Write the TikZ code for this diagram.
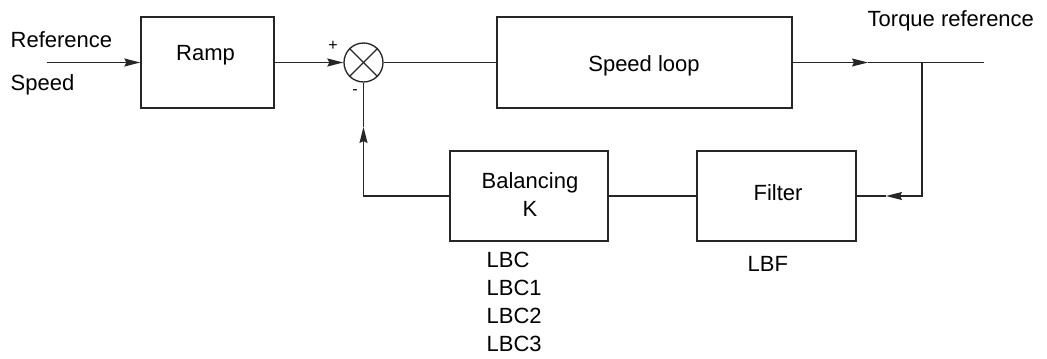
\documentclass[tikz,border=0pt]{standalone}
\usepackage{fontspec}
\setmainfont{Liberation Sans}
\usetikzlibrary{arrows.meta}
\newdimen\pxu \pxu=0.75pt
\begin{document}
\begin{tikzpicture}[x=0.75pt,y=-0.75pt,
  line width=1pt, draw=black!85,
  blk/.style={draw, rectangle, inner sep=0pt, line width=1pt},
  txt/.style={inner sep=0pt, font=\fontsize{16.5}{20}\selectfont},
  arr/.style={-{Stealth[length=12pt,width=6pt,inset=1.5pt]}},
  wire/.style={line width=1pt}]
\useasboundingbox (0,0) rectangle (1047,358);
% blocks
\node[blk, minimum width=133\pxu, minimum height=91\pxu] (ramp) at (207.5,62.5) {};
\node[blk, minimum width=295\pxu, minimum height=91\pxu] (speed) at (644.5,62.5) {};
\node[blk, minimum width=158\pxu, minimum height=90\pxu] (bal) at (529,196) {};
\node[blk, minimum width=159\pxu, minimum height=90\pxu] (filt) at (776.5,196) {};
\node[draw, circle, inner sep=0pt, minimum size=39\pxu, line width=1pt] (sum) at (363.5,62.5) {};
\draw[wire] (sum.north west) -- (sum.south east);
\draw[wire] (sum.north east) -- (sum.south west);
% texts
\node[txt, anchor=base west] (tref) at (10,47) {Reference};
\node[txt, anchor=base west] (tspd) at (10,90) {Speed};
\node[txt, anchor=base] (tramp) at (205.5,60) {Ramp};
\node[txt, anchor=base] (tloop) at (644,71.5) {Speed loop};
\node[txt, anchor=base west] (ttorq) at (867,26) {Torque reference};
\node[txt, anchor=base] (tbal) at (530,188) {Balancing};
\node[txt, anchor=base] (tk) at (530,216) {K};
\node[txt, anchor=base] (tfilt) at (778,200) {Filter};
\node[txt, anchor=base west] (tlbf) at (747,271) {LBF};
\node[txt, anchor=base west] (tlbc) at (486,267) {LBC};
\node[txt, anchor=base west] (tlbc1) at (486,295) {LBC1};
\node[txt, anchor=base west] (tlbc2) at (486,323) {LBC2};
\node[txt, anchor=base west] (tlbc3) at (486,351) {LBC3};
\node[inner sep=0pt, font=\fontsize{12}{14}\selectfont] (plus) at (333,46) {+};
\node[inner sep=0pt, font=\fontsize{12}{14}\selectfont] (minus) at (355,92) {-};
% coordinates
\coordinate (in) at (47,62.5);
\coordinate (tipO) at (868,62.5);
\coordinate (br) at (922,62.5);
\coordinate (outE) at (984,62.5);
\coordinate (brD) at (922,196);
\coordinate (tipF) at (886,196);
\coordinate (fbC) at (363.5,196);
\coordinate (tipU) at (363.5,127);
% connectors
\draw[wire, arr] (in) -- (ramp.west);
\draw[wire, arr] (ramp.east) -- (sum.west);
\draw[wire] (sum.east) -- (speed.west);
\draw[wire, arr] (speed.east) -- (tipO);
\draw[wire] (tipO) -- (br) -- (outE);
\draw[wire, arr] (br) -- (brD) -- (tipF);
\draw[wire] (tipF) -- (filt.east);
\draw[wire] (filt.west) -- (bal.east);
\draw[wire, arr] (bal.west) -- (fbC) -- (tipU);
\draw[wire] (tipU) -- (sum.south);
\end{tikzpicture}
\end{document}
